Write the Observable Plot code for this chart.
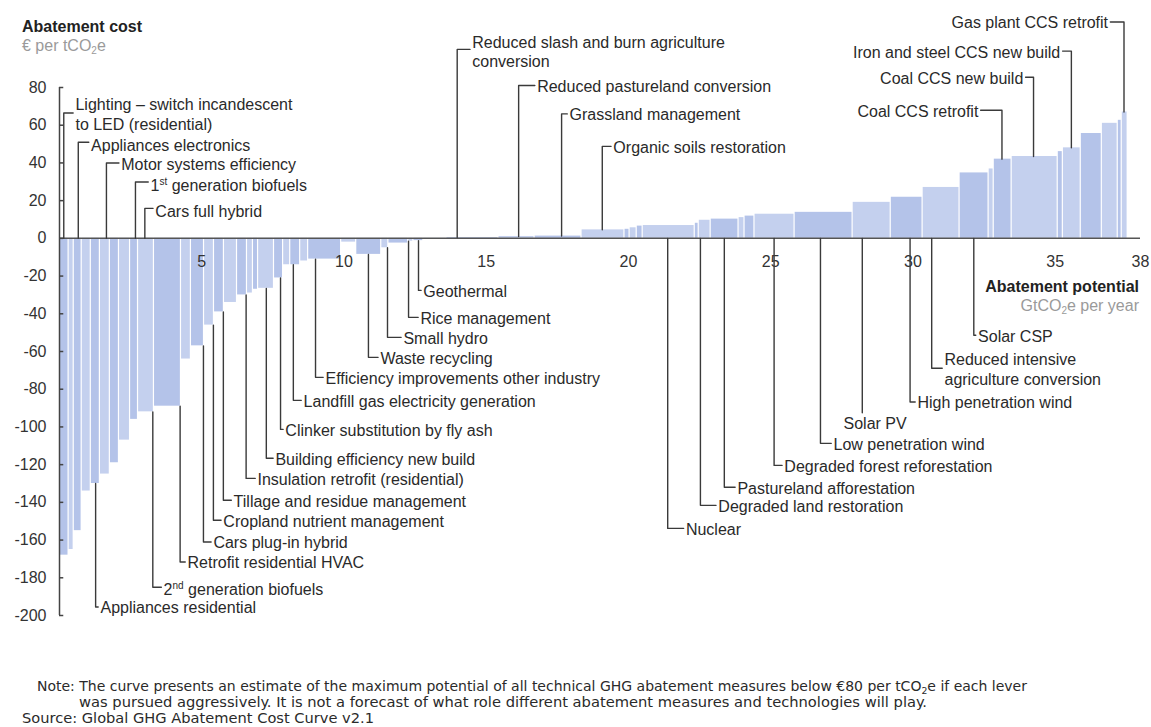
<!DOCTYPE html>
<html><head><meta charset="utf-8">
<script src="https://cdn.jsdelivr.net/npm/d3@7"></script>
<script src="https://cdn.jsdelivr.net/npm/@observablehq/plot@0.6"></script>
<style>
body{margin:0;background:#fff;}
#wrap{position:relative;width:1151px;height:727px;overflow:hidden;font-family:"Liberation Sans",Arial,sans-serif;background:#fff;}
.t{position:absolute;white-space:nowrap;line-height:16px;font-size:16px;}
.t sub{font-size:10px;vertical-align:-3px;line-height:0;}
</style></head><body><div id="wrap"></div>
<script>
// Abatement potential (GtCO2e per year) of each lever, left to right
const potentials = [0.32,0.18,0.28,0.32,0.32,0.35,0.32,0.39,0.28,0.56,0.95,0.35,0.46,0.35,0.35,0.46,0.35,0.21,0.18,0.56,0.32,0.25,0.35,0.28,1.16,0.53,0.88,0.25,0.70,0.18,0.35,
  0.81,1.83,1.27,1.65,1.51,0.18,0.25,0.21,1.83,0.14,0.42,0.98,0.21,0.35,1.41,2.04,1.34,1.12,1.30,1.02,0.18,0.63,1.62,0.18,0.63,0.74,0.56,0.14,0.21];
// Abatement cost (€ per tCO2e) of each lever
const costs = [-168,-165,-155,-134,-130,-125,-119,-107,-96,-92,-89,-64,-57,-46,-39,-34,-30,-29,-27,-26.5,-21,-14,-14,-12,-11,-2,-8.5,-5,-2.5,-1.5,-1.2,
  -0.5,0.4,1.0,1.2,4.5,4.8,5.6,6.5,6.8,8,9.6,10.2,11,11.8,12.8,13.8,19.1,21.8,27,34.7,36.8,42,43.4,46,48,55.6,61,62.6,67];
const xTicks = [5,10,15,20,25,30,35,38];
const yTicks = [80,60,40,20,0,-20,-40,-60,-80,-100,-120,-140,-160,-180,-200];

// Lever annotations
const labelText = [
  "Lighting – switch incandescent\nto LED (residential)","Appliances electronics","Motor systems efficiency","1st generation biofuels","Cars full hybrid",
  "Reduced slash and burn agriculture\nconversion","Reduced pastureland conversion","Grassland management","Organic soils restoration",
  "Coal CCS retrofit","Coal CCS new build","Iron and steel CCS new build","Gas plant CCS retrofit",
  "Appliances residential","2nd generation biofuels","Retrofit residential HVAC","Cars plug-in hybrid","Cropland nutrient management",
  "Tillage and residue management","Insulation retrofit (residential)","Building efficiency new build","Clinker substitution by fly ash",
  "Landfill gas electricity generation","Efficiency improvements other industry","Waste recycling","Small hydro","Rice management","Geothermal",
  "Nuclear","Degraded land restoration","Pastureland afforestation","Degraded forest reforestation","Low penetration wind","Solar PV",
  "High penetration wind","Reduced intensive\nagriculture conversion","Solar CSP"];
const leaderX = [0.15,0.66,1.65,2.67,3.0, 13.98,16.14,17.65,19.08, 33.13,34.24,35.57,37.42,
  1.27,3.28,4.24,5.06,5.41,5.76,6.56,7.27,7.77,8.22,9.0,10.86,11.53,12.27,12.62,
  21.38,22.53,23.37,25.12,26.75,28.22,29.9,30.66,32.14];
const hookY = [66.5,51.0,40.0,29.9,15.9, 100.2,81.1,66.0,48.8, 67.9,85.4,99.3,114.7,
  -195.5,-185.0,-171.6,-161,-149.5,-138.9,-127.3,-116.6,-101.3,-85.9,-73.7,-63.1,-52.5,-41.9,-27.6,
  -153.8,-141.6,-132,-120.4,-108.7,-92.5,-86.8,-68.9,-51.4];
const labelX = [0.56,1.11,2.17,3.2,3.37, 14.51,16.79,17.93,19.47, 32.30,33.88,35.18,36.86,
  1.44,3.66,4.5,5.41,5.76,6.12,6.96,7.59,7.94,8.58,9.35,11.28,12.09,12.69,12.79,
  22.02,23.16,23.83,25.48,27.21,27.56,30.16,31.11,32.29];
const labelY = [66.3,49.8,39.6,28.3,14.8, 99.3,81.1,66.3,48.4, 67.9,85.4,99.3,114.7,
  -195.5,-185.6,-171.6,-161,-149.5,-138.9,-127.3,-116.6,-101.3,-85.9,-73.7,-63.1,-52.5,-41.9,-27.6,
  -153.8,-141.6,-132,-120.4,-108.7,-97.5,-86.8,-68.9,-51.4];
const labelAnchor = labelText.map((t,i)=> (i>=9 && i<=12) ? "end" : "start");

// Build tables
let acc = 0;
const bars = potentials.map((w,i)=>{const b={x1:acc,x2:acc+w,cost:costs[i],i}; acc+=w; return b;});
const costAt = x => { const b = bars.find(b=>x>=b.x1 && x<b.x2); return b ? b.cost : 0; };
const labels = labelText.map((t,i)=>({text:t, lx:leaderX[i], hy:hookY[i], tx:labelX[i], ty:labelY[i], anchor:labelAnchor[i]}));
const leaderPts = [];
labels.forEach((l,k)=>{
  const c = costAt(l.lx);
  const start = ((l.hy>0 && c>0) || (l.hy<0 && c<0)) ? c : 0;
  leaderPts.push({k, x:l.lx, y:start});
  leaderPts.push({k, x:l.lx, y:l.hy});
  const gap = 0.08;
  const hx = l.anchor==="start" ? l.tx-gap : l.tx+gap;
  if ((l.anchor==="start" && hx>l.lx) || (l.anchor==="end" && hx<l.lx)) leaderPts.push({k, x:hx, y:l.hy});
});

const chart = Plot.plot({
  width: 1151, height: 640,
  marginLeft: 59, marginRight: 11, marginTop: 87, marginBottom: 25,
  x: {domain: [0, 38], axis: null},
  y: {domain: [-200, 80], axis: null},
  style: {fontFamily: '"Liberation Sans", Arial, sans-serif', fontSize: "16px", background: "white", color: "#2a2a2a", overflow: "visible"},
  marks: [
    Plot.rect(bars, {x1: "x1", x2: "x2", y1: d => 0, y2: "cost",
      fill: d => d.i % 2 ? "#c4d0ee" : "#b4c3e9", insetLeft: 0.6, insetRight: 0.6}),
    Plot.ruleY([0], {x1: 0, x2: 38, stroke: "#555", strokeWidth: 1.5}),
    Plot.ruleX([0], {y1: -200, y2: 80, stroke: "#444", strokeWidth: 1.5}),
    Plot.ruleY(yTicks, {x1: 0, x2: 0.15, stroke: "#444", strokeWidth: 1.5}),
    Plot.text(yTicks, {x: d => 0, y: d => d, dx: -13, textAnchor: "end", fill: "#333", fontSize: 16}),
    Plot.text(xTicks, {x: d => d, y: d => 0, dy: 24, text: d => String(d), fill: "#333", fontSize: 16}),
    Plot.line(leaderPts, {x: "x", y: "y", z: "k", stroke: "#3a3a3a", strokeWidth: 1.4, curve: "linear"}),
    Plot.text(labels.filter(d => d.anchor === "start"), {x: "tx", y: "ty", text: "text", textAnchor: "start", lineHeight: 1.25, fill: "#2a2a2a", fontSize: 16}),
    Plot.text(labels.filter(d => d.anchor === "end"), {x: "tx", y: "ty", text: "text", textAnchor: "end", lineHeight: 1.25, fill: "#2a2a2a", fontSize: 16})
  ]
});

// superscripts for ordinal labels
d3.select(chart).selectAll("text").each(function(){
  const s = this.textContent;
  const m = s.match(/^(\d)(st|nd) (.*)$/);
  if (m) this.innerHTML = `${m[1]}<tspan dy="-6" font-size="10">${m[2]}</tspan><tspan dy="6"> ${m[3]}</tspan>`;
});

const wrap = document.getElementById("wrap");
chart.style.position = "absolute"; chart.style.left = "0"; chart.style.top = "0";
wrap.appendChild(chart);

const add = (html, css) => { const d = document.createElement("div"); d.className = "t"; d.innerHTML = html; Object.assign(d.style, css); wrap.appendChild(d); };
add("Abatement cost", {left: "22px", top: "19px", fontWeight: "bold", color: "#222"});
add("€ per tCO<sub>2</sub>e", {left: "22px", top: "38px", color: "#9a9a9a"});
add("Abatement potential", {right: "12px", top: "279px", fontWeight: "bold", color: "#222"});
add("GtCO<sub>2</sub>e per year", {right: "12px", top: "298px", color: "#9a9a9a"});

// Footnote
const ns = "http://www.w3.org/2000/svg";
const fn = document.createElementNS(ns, "svg");
fn.setAttribute("width", 1151); fn.setAttribute("height", 55);
fn.style.position = "absolute"; fn.style.left = "0"; fn.style.top = "672px";
fn.innerHTML = `
<g font-family="'Liberation Sans Narrow','DejaVu Sans Condensed','Liberation Sans',sans-serif" font-size="13.5" fill="#2a2a2a">
<text x="37" y="19" textLength="990" lengthAdjust="spacingAndGlyphs">Note: The curve presents an estimate of the maximum potential of all technical GHG abatement measures below €80 per tCO<tspan font-size="9" dy="3">2</tspan><tspan dy="-3">e if each lever</tspan></text>
<text x="79" y="35" textLength="848" lengthAdjust="spacingAndGlyphs">was pursued aggressively. It is not a forecast of what role different abatement measures and technologies will play.</text>
<text x="22" y="51" textLength="352" lengthAdjust="spacingAndGlyphs">Source: Global GHG Abatement Cost Curve v2.1</text>
</g>`;
wrap.appendChild(fn);
</script></body></html>
